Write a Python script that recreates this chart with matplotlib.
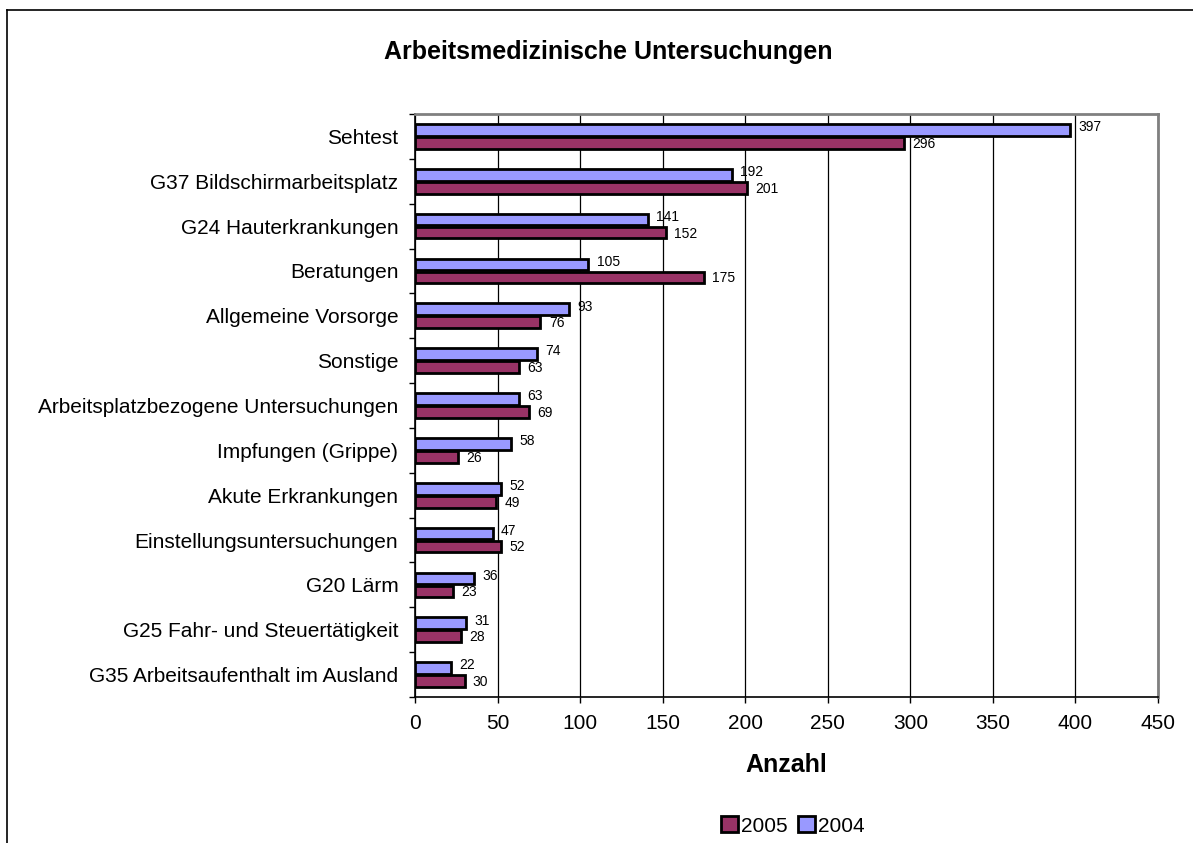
import matplotlib
matplotlib.use("Agg")
import matplotlib.pyplot as plt
import numpy as np
from matplotlib.lines import Line2D
from matplotlib.patches import Patch

categories = ["Sehtest", "G37 Bildschirmarbeitsplatz", "G24 Hauterkrankungen", "Beratungen",
              "Allgemeine Vorsorge", "Sonstige", "Arbeitsplatzbezogene Untersuchungen",
              "Impfungen (Grippe)", "Akute Erkrankungen", "Einstellungsuntersuchungen",
              "G20 Lärm", "G25 Fahr- und Steuertätigkeit", "G35 Arbeitsaufenthalt im Ausland"]
v2004 = [397, 192, 141, 105, 93, 74, 63, 58, 52, 47, 36, 31, 22]
v2005 = [296, 201, 152, 175, 76, 63, 69, 26, 49, 52, 23, 28, 30]
xticks = [0, 50, 100, 150, 200, 250, 300, 350, 400, 450]

plt.rcParams['font.family'] = ['Liberation Sans', 'DejaVu Sans']
W, H = 1193, 843
fig = plt.figure(figsize=(W/100, H/100), dpi=100)

L, R, T, B = 415, 1158, 114, 697
ax = fig.add_axes([L/W, 1-B/H, (R-L)/W, (B-T)/H])
n = len(categories)
y = np.arange(n)
bh = 0.26
off = 0.145
c04 = '#9999FF'
c05 = '#993366'
ax.barh(y - off, v2004, height=bh, color=c04, edgecolor='black', linewidth=2, zorder=3)
ax.barh(y + off, v2005, height=bh, color=c05, edgecolor='black', linewidth=2, zorder=3)
for i in range(n):
    ax.annotate(str(v2004[i]), (v2004[i], y[i] - off - 0.06), xytext=(6, 0), textcoords='offset points',
                va='center', ha='left', fontsize=10)
    ax.annotate(str(v2005[i]), (v2005[i], y[i] + off + 0.02), xytext=(6, 0), textcoords='offset points',
                va='center', ha='left', fontsize=10)

ax.set_xlim(0, 450)
ax.set_ylim(n - 0.5, -0.5)
ax.set_xticks(xticks)
ax.set_xticklabels([str(t) for t in xticks], fontsize=15)
ax.set_yticks(y)
ax.set_yticklabels(categories, fontsize=15)
ax.tick_params(axis='y', length=0, pad=12)
ax.set_yticks(np.arange(n + 1) - 0.5, minor=True)
ax.tick_params(axis='y', which='minor', length=4.5, width=1, direction='out')
ax.tick_params(axis='x', length=4.5, width=1, direction='out', pad=8)
ax.xaxis.grid(True, color='black', linewidth=0.9, zorder=0)
ax.set_axisbelow(True)
for s in ['top', 'right']:
    ax.spines[s].set_color('#808080')
    ax.spines[s].set_linewidth(2)
for s in ['left', 'bottom']:
    ax.spines[s].set_color('black')
    ax.spines[s].set_linewidth(1.2)
ax.set_xlabel('Anzahl', fontsize=18, fontweight='bold', labelpad=14)

fig.text(608/W, 1-52/H, 'Arbeitsmedizinische Untersuchungen', ha='center', va='center',
         fontsize=18, fontweight='bold')

fig.add_artist(Line2D([7/W, 1.0], [1-10/H, 1-10/H], color='black', linewidth=1.2, transform=fig.transFigure))
fig.add_artist(Line2D([7/W, 7/W], [0, 1-10/H], color='black', linewidth=1.2, transform=fig.transFigure))

handles = [Patch(facecolor=c05, edgecolor='black', linewidth=2, label='2005'),
           Patch(facecolor=c04, edgecolor='black', linewidth=2, label='2004')]
fig.legend(handles=handles, loc='center', bbox_to_anchor=(793/W, 1-826/H), ncol=2, frameon=False,
           fontsize=15, handlelength=0.8, handleheight=0.8, handletextpad=0.15, columnspacing=0.5,
           borderpad=0)

fig.savefig('out.png', dpi=100)
